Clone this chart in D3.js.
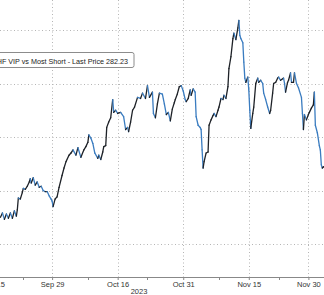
<!DOCTYPE html>
<html>
<head>
<meta charset="utf-8">
<script src="https://cdn.jsdelivr.net/npm/d3@7"></script>
<style>
  html, body { margin: 0; padding: 0; background: #fff; }
  #svgContainer { width: 324px; height: 295px; overflow: hidden; }
  text { font-family: "Liberation Sans", Arial, sans-serif; }
</style>
</head>
<body>
<div id="svgContainer"></div>
<script>

var WIDTH = 324;
var HEIGHT = 295;

// intraday bar index (about 6 bars per trading day, 0 = Sep 15 open)
var bars = [
    8,10,12,14,16,18,20,22,24,25,26,28,30,31,33,35,37,38,39,41,43,45,47,49,51,53,55,57,59,60,61,63,65,67,
    70,72,74,77,79,81,84,86,89,92,94,96,97,99,101,103,106,107,109,111,112,114,115,117,119,121,122,124,126,129,
    132,134,136,137,139,141,143,146,149,151,154,156,158,161,162,164,166,168,171,173,175,177,179,181,183,184,186,188,
    190,192,194,195,197,199,200,202,204,205,207,209,210,211,212,213,215,217,218,220,222,223,225,227,228,230,232,233,
    235,237,238,240,242,243,245,247,248,249,250,252,253,254,255,257,258,259,260,262,263,265,267,268,270,272,273,275,
    277,279,280,282,283,285,287,288,290,293,294,295,297,298,300,301,303,304,306,308,
    311,312,313,314,316,318,319,321,323,324,325,327,329,330,331,332,333,334
];

var prices = [
    277.5,277.9,277.3,277.8,277.4,277.9,277.4,278.1,277.6,278.2,279.3,279.2,279.8,280.2,280.1,280.4,280.8,281.1,280.7,281.2,
    280.5,280.8,280.3,280.4,280.0,279.9,279.9,279.5,279.2,279.0,278.5,279.2,279.4,280.3,
    281.4,282.1,282.7,283.3,283.5,283.8,283.3,284.0,283.1,283.8,284.1,284.5,285.2,284.9,284.4,283.5,283.0,283.3,282.9,283.6,
    284.1,284.2,285.9,286.4,286.8,288.5,287.3,287.5,287.2,287.3,286.9,285.7,285.9,285.5,286.4,287.5,287.8,288.7,288.6,289.1,
    288.6,289.8,288.7,289.2,287.2,286.8,288.1,289.1,289.0,288.1,287.1,287.3,286.5,287.6,288.2,288.5,289.0,289.7,
    289.8,289.3,288.5,288.3,288.6,289.4,288.9,289.5,289.2,286.9,286.1,285.9,285.7,283.8,282.1,282.7,283.5,283.6,286.1,286.6,
    287.0,287.2,286.9,287.5,287.8,288.6,288.5,288.9,288.6,289.7,291.4,292.5,294.2,294.7,294.1,295.2,295.9,294.5,294.2,293.8,
    292.0,290.5,290.1,290.6,289.4,287.5,285.8,287.2,287.8,290.0,290.5,290.1,290.3,290.0,289.1,288.5,287.8,287.2,287.5,289.1,
    290.0,290.1,290.5,290.6,290.3,290.5,290.0,289.2,290.1,290.3,291.0,290.1,290.1,291.0,290.0,289.6,
    288.7,287.2,285.7,287.1,286.6,287.1,287.3,287.7,288.0,289.2,286.1,285.4,284.2,283.8,282.4,282.1,282.2,282.23
];

var tickBars = [0, 60, 126, 192, 258, 318];
var tickLabels = ["Sep 15", "Sep 29", "Oct 16", "Oct 31", "Nov 15", "Nov 30"];
var minorTickBars = [31, 96, 156, 228, 288];
var gridPrices = [275, 280, 285, 290, 295];
var yearLabel = "2023";
var titleText = "GS HF VIP vs Most Short - Last Price 282.23";


function makeChart()
{
    var svg = d3.select("#svgContainer").append("svg")
                .attr("width", WIDTH)
                .attr("height", HEIGHT);

    var x = d3.scaleLinear().domain([0, 318]).range([-7.5, 308.4]);
    var y = d3.scaleLinear().domain([275, 295]).range([244, 30]);
    var axisY = 277;

    // horizontal dotted grid
    svg.selectAll(".hgrid")
       .data(gridPrices)
       .enter().append("line")
       .attr("class", "hgrid")
       .attr("x1", 0).attr("x2", WIDTH)
       .attr("y1", function(d) { return Math.round(y(d)) + 0.5; })
       .attr("y2", function(d) { return Math.round(y(d)) + 0.5; })
       .style("stroke", "#b5b5b5")
       .style("stroke-dasharray", "1,2.5");

    // vertical dotted grid
    svg.selectAll(".vgrid")
       .data(tickBars)
       .enter().append("line")
       .attr("class", "vgrid")
       .attr("x1", function(d) { return Math.round(x(d)) + 0.5; })
       .attr("x2", function(d) { return Math.round(x(d)) + 0.5; })
       .attr("y1", 0).attr("y2", axisY)
       .style("stroke", "#b5b5b5")
       .style("stroke-dasharray", "1,2.5");

    // price line, coloured by direction
    var pts = bars.map(function(b, i) { return [x(b), y(prices[i])]; });
    var segs = d3.pairs(pts);
    svg.append("g")
       .selectAll("line")
       .data(segs)
       .enter().append("line")
       .attr("x1", function(d) { return d[0][0]; })
       .attr("y1", function(d) { return d[0][1]; })
       .attr("x2", function(d) { return d[1][0]; })
       .attr("y2", function(d) { return d[1][1]; })
       .style("stroke", function(d) { return d[1][1] > d[0][1] ? "#3a7cc0" : "#1e2228"; })
       .style("stroke-width", 1.3)
       .style("stroke-linecap", "round");

    // title box (clipped at left edge)
    svg.append("rect")
       .attr("x", -60).attr("y", 52.5)
       .attr("width", 194).attr("height", 15)
       .attr("rx", 2)
       .style("fill", "#fff")
       .style("stroke", "#8c8c8c");

    svg.append("text")
       .attr("x", 128).attr("y", 63.5)
       .attr("text-anchor", "end")
       .style("font-size", "7.2px")
       .style("fill", "#222")
       .text(titleText);

    // x axis
    var xAxis = d3.axisBottom(x)
                  .tickValues(tickBars)
                  .tickFormat(function(d, i) { return tickLabels[i]; })
                  .tickSize(3)
                  .tickPadding(2);

    var ax = svg.append("g")
                .attr("transform", "translate(0," + axisY + ")")
                .call(xAxis);
    ax.select(".domain").remove();
    ax.selectAll("line").style("stroke", "#888");
    ax.selectAll("text")
      .style("font-size", "7.5px")
      .style("font-family", "Liberation Sans, Arial, sans-serif")
      .style("fill", "#333");

    svg.append("line")
       .attr("x1", 0).attr("x2", WIDTH)
       .attr("y1", axisY + 0.5).attr("y2", axisY + 0.5)
       .style("stroke", "#888");

    svg.selectAll(".minor")
       .data(minorTickBars)
       .enter().append("line")
       .attr("class", "minor")
       .attr("x1", function(d) { return Math.round(x(d)) + 0.5; })
       .attr("x2", function(d) { return Math.round(x(d)) + 0.5; })
       .attr("y1", axisY).attr("y2", axisY + 3)
       .style("stroke", "#888");

    svg.append("text")
       .attr("x", 139).attr("y", 294)
       .attr("text-anchor", "middle")
       .style("font-size", "7.5px")
       .style("fill", "#333")
       .text(yearLabel);
}


makeChart();
</script>
</body>
</html>
